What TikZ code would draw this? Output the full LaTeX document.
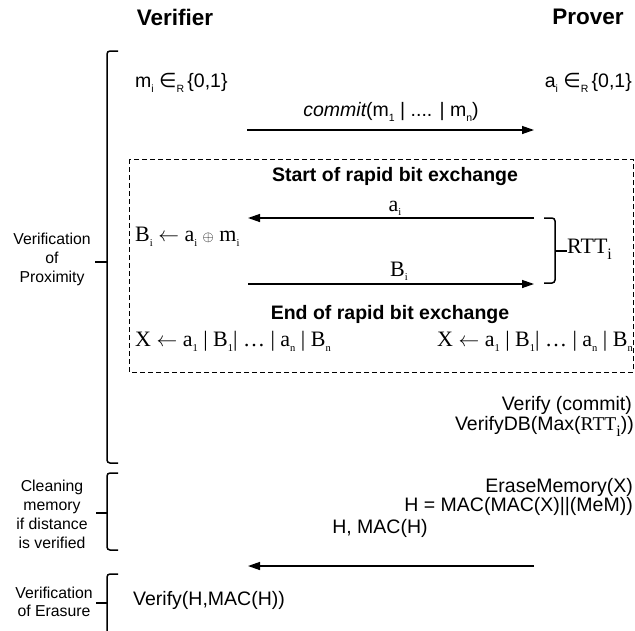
\documentclass[tikz,border=0pt]{standalone}
\usepackage{fontspec}
\setmainfont{Liberation Sans}
\newfontfamily\serf{Liberation Serif}
\newfontfamily\dejav{DejaVu Sans}
\usetikzlibrary{arrows.meta}
\newcommand\tsub[1]{\raisebox{-0.45ex}{\fontsize{10.5}{10.5}\selectfont #1}}
\newcommand\rsub[1]{\raisebox{-0.6ex}{\fontsize{16}{16}\selectfont #1}}
\newcommand\elt{{\dejav\fontsize{20}{20}\selectfont ∈}}
\begin{document}
\begin{tikzpicture}[x=1pt,y=-1pt,
  sans/.style={font={\fontsize{19.5}{23}\selectfont}, inner sep=0pt},
  boldt/.style={font={\bfseries\fontsize{19.5}{23}\selectfont}, inner sep=0pt},
  head/.style={font={\bfseries\fontsize{22.5}{26}\selectfont}, inner sep=0pt},
  serift/.style={font={\serf\fontsize{22}{26}\selectfont}, inner sep=0pt},
  side/.style={font={\fontsize{15.8}{19}\selectfont}, align=center, inner sep=0pt},
  msg/.style={line width=1.3pt, -{Triangle[length=12pt,width=8pt]}},
  brk/.style={line width=1.5pt, rounded corners=3pt},
  dbox/.style={dash pattern=on 5pt off 3pt, line width=1pt}
]
\useasboundingbox (0,0) rectangle (635,630);
\clip (0,0) rectangle (635,630);

% headings
\node[head] (ver) at (175,17) {Verifier};
\node[head] (prov) at (588,17) {Prover};

% brackets
\draw[brk] (118,51) -- (107,51) -- (107,463) -- (118,463);
\draw[line width=1.5pt] (107,262) -- (95,262);
\draw[brk] (118,473) -- (107,473) -- (107,550) -- (118,550);
\draw[line width=1.5pt] (107,513) -- (96,513);
\draw[brk] (118,574) -- (107,574) -- (107,640);
\draw[line width=1.5pt] (107,603) -- (96,603);

% side labels
\node[side] (lprox) at (52,259) {Verification\\of\\Proximity};
\node[side] (lclean) at (52,514) {Cleaning\\memory\\if distance\\is verified};
\node[side, font={\fontsize{15.8}{17.5}\selectfont}] (leras) at (54,602) {Verification\\of Erasure};

% initial choices
\node[sans, anchor=mid west] (mi) at (135,85) {m\tsub{i} \elt\tsub{R}\,\{0,1\}};
\node[sans, anchor=mid east] (ai) at (632,85) {a\tsub{i} \elt\tsub{R}\,\{0,1\}};

% commit
\coordinate (c1) at (247,130);
\coordinate (c2) at (534,130);
\draw[msg] (c1) -- (c2);
\node[sans] (commit) at (391,112) {{\itshape commit}(m\tsub{1} | .... | m\tsub{n})};

% dashed box
\draw[dbox] (129,159) rectangle (633,372);
\node[boldt] (start) at (395,176) {Start of rapid bit exchange};

\coordinate (a1) at (534,218);
\coordinate (a2) at (248,218);
\draw[msg] (a1) -- (a2);
\node[serift, anchor=base] (alab) at (395,211) {a\tsub{i}};

\node[serift, anchor=mid west] (bcomp) at (135,239) {B\tsub{i} $\leftarrow$ a\tsub{i} {\fontsize{15}{15}\selectfont$\oplus$} m\tsub{i}};

\coordinate (b1) at (248,284);
\coordinate (b2) at (534,284);
\draw[msg] (b1) -- (b2);
\node[serift, anchor=base] (blab) at (399,276) {B\tsub{i}};

% RTT bracket
\draw[brk] (544,218) -- (555,218) -- (555,283) -- (544,283);
\draw[line width=1.5pt] (555,251) -- (567,251);
\node[serift, anchor=mid west] (rtt) at (567,251) {RTT\rsub{i}};

\node[boldt] (end) at (390,314) {End of rapid bit exchange};
\node[serift, anchor=mid west] (xl) at (135,344) {X $\leftarrow$ a\tsub{1} | B\tsub{1}| \ldots{} | a\tsub{n} | B\tsub{n}};
\node[serift, anchor=mid east] (xr) at (633,344) {X $\leftarrow$ a\tsub{1} | B\tsub{1}| \ldots{} | a\tsub{n} | B\tsub{n}};

% verification
\node[sans, anchor=mid east] (vc) at (632,408) {Verify (commit)};
\node[sans, anchor=mid east] (vdb) at (634,428) {VerifyDB(Max({\serf RTT\rsub{i}}))};

% erasure
\node[sans, anchor=mid east] (erase) at (633,490) {EraseMemory(X)};
\node[sans, anchor=mid east] (hmac) at (633,509) {H = MAC(MAC(X)||(MeM))};
\node[sans] (hlab) at (380,528) {H, MAC(H)};
\coordinate (h1) at (534,566);
\coordinate (h2) at (248,566);
\draw[msg] (h1) -- (h2);

\node[sans, anchor=mid west] (vh) at (133,603) {Verify(H,MAC(H))};
\end{tikzpicture}
\end{document}
